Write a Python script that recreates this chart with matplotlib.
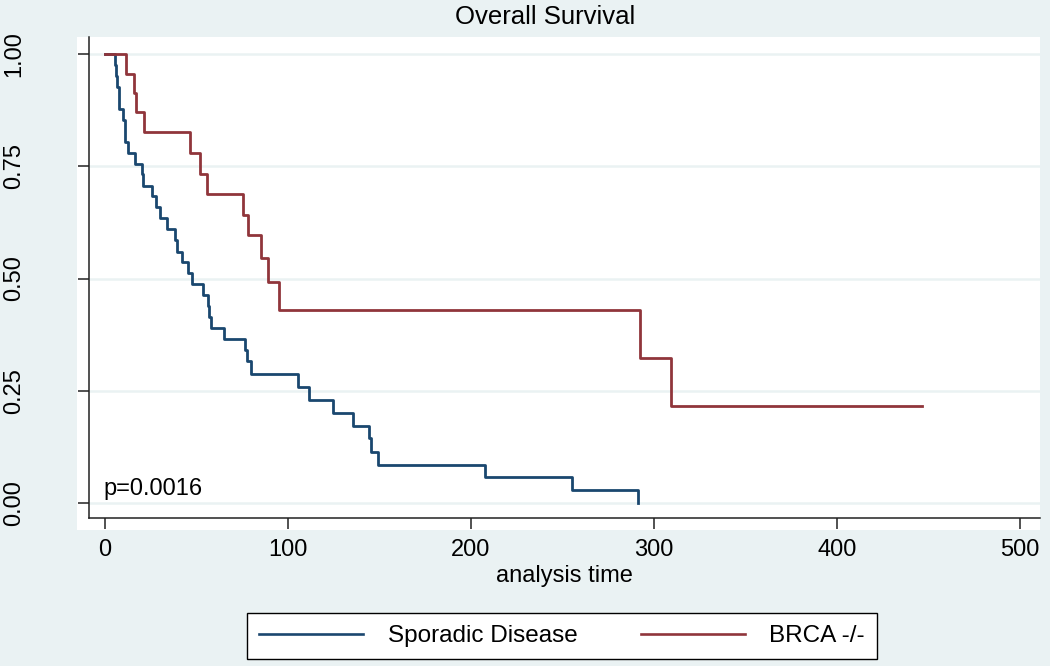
import matplotlib
matplotlib.use("Agg")
import matplotlib.pyplot as plt
from matplotlib.patches import Rectangle
from matplotlib.lines import Line2D

plt.rcParams['font.family'] = ['Liberation Sans', 'DejaVu Sans']

# Kaplan-Meier steps (time of drop, survival after it)
spor_time = [0, 5.5, 6.0, 6.8, 7.9, 9.6, 10.9, 12.3, 16.4, 20.0, 20.9, 25.5, 27.9,
             30.0, 33.7, 38.2, 39.5, 41.9, 45.5, 47.4, 53.7, 56.4, 57.0, 57.8,
             65.2, 76.7, 77.4, 80.0, 105.4, 111.5, 124.8, 135.7, 144.4, 145.4,
             149.3, 207.7, 255.4, 291.4]
spor_surv = [1.0, 0.976, 0.951, 0.927, 0.878, 0.854, 0.805, 0.780, 0.756, 0.732,
             0.707, 0.683, 0.659, 0.634, 0.610, 0.585, 0.560, 0.537, 0.513, 0.488,
             0.463, 0.439, 0.415, 0.390, 0.366, 0.341, 0.317, 0.287, 0.258, 0.229,
             0.201, 0.172, 0.144, 0.114, 0.085, 0.057, 0.028, 0.0]

brca_time = [0, 11.5, 16.0, 16.8, 21.5, 46.4, 51.9, 55.6, 75.2, 78.0, 85.2, 89.2,
             95.2, 292.3, 309.3, 446.3]
brca_surv = [1.0, 0.956, 0.913, 0.870, 0.827, 0.779, 0.733, 0.688, 0.641, 0.597,
             0.546, 0.493, 0.430, 0.322, 0.215, 0.215]

xticks = [0, 100, 200, 300, 400, 500]
yticks = [0.0, 0.25, 0.5, 0.75, 1.0]
ytick_labels = ['0.00', '0.25', '0.50', '0.75', '1.00']
series_names = ['Sporadic Disease', 'BRCA -/-']
p_text = 'p=0.0016'

bg = '#EAF2F3'
blue = '#1A476F'
red = '#90353B'
W, H = 1050, 666

fig = plt.figure(figsize=(10.5, 6.66), dpi=100)
fig.patch.set_facecolor(bg)

# white plot region (a bit larger than the axes, like Stata)
fig.add_artist(Rectangle((77 / W, 1 - 530 / H), (1040 - 77) / W, (530 - 37) / H,
                         transform=fig.transFigure, facecolor='white',
                         edgecolor='none', zorder=0))

ax = fig.add_axes([89 / W, 1 - 518 / H, (1040 - 89) / W, (518 - 37) / H])
ax.set_facecolor('none')

for y in yticks:
    ax.axhline(y, color=bg, lw=1.8, zorder=1)

ax.step(spor_time, spor_surv, where='post', color=blue, lw=2.0, zorder=3)
ax.step(brca_time, brca_surv, where='post', color=red, lw=2.0, zorder=3)

ax.set_xlim((89 - 105) / 1.83, (1040 - 105) / 1.83)
ax.set_ylim((503 - 518) / 449, (503 - 37) / 449)

ax.set_xticks(xticks)
ax.set_yticks(yticks)
ax.set_yticklabels(ytick_labels, rotation=90, va='center')
ax.tick_params(axis='both', length=8, width=1.1, color='#222222', labelsize=17)
ax.tick_params(axis='y', pad=38)
ax.tick_params(axis='x', pad=7)

for s in ['top', 'right']:
    ax.spines[s].set_visible(False)
for s in ['left', 'bottom']:
    ax.spines[s].set_color('#222222')
    ax.spines[s].set_linewidth(1.1)

ax.set_xlabel('analysis time', fontsize=17, labelpad=3)
ax.text(-1, 0.031, p_text, fontsize=17, va='center', ha='left')

fig.text(0.519, 1 - 17 / H, 'Overall Survival', fontsize=18.5, ha='center', va='center')

handles = [Line2D([], [], color=blue, lw=1.9), Line2D([], [], color=red, lw=1.9)]
leg = fig.legend(handles, series_names, loc='center', bbox_to_anchor=(562 / W, 1 - 636 / H),
                 ncol=2, fontsize=17.5, frameon=True, fancybox=False, handlelength=4.3,
                 columnspacing=2.6, handletextpad=1.0, borderpad=0.5, framealpha=1)
leg.get_frame().set_edgecolor('black')
leg.get_frame().set_facecolor('white')
leg.get_frame().set_linewidth(1.0)

fig.savefig('out.png', dpi=100, facecolor=bg)
